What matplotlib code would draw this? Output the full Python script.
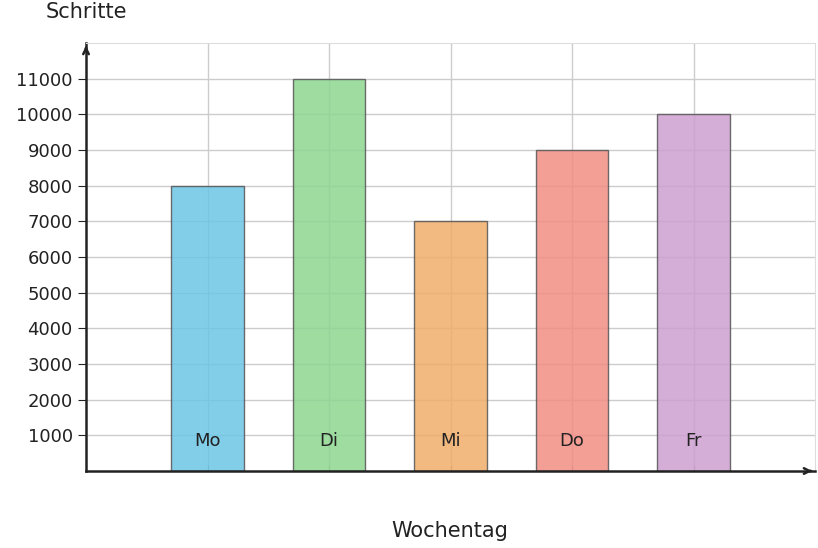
import matplotlib
matplotlib.use("Agg")
import matplotlib.pyplot as plt

days = ["Mo", "Di", "Mi", "Do", "Fr"]
steps = [8000, 11000, 7000, 9000, 10000]
colors = ["#6cc6e6", "#8dd690", "#f0ad6a", "#f18e84", "#cda0d1"]
yticks = list(range(1000, 12000, 1000))

fig = plt.figure(figsize=(8.18, 5.48), dpi=100)
ax = fig.add_axes([86/818, 77/548, 729/818, 428/548])
pos = list(range(1, len(days) + 1))
ax.bar(pos, steps, width=0.6, color=colors, alpha=0.85, edgecolor="#555555", linewidth=1, zorder=2)
ax.set_xlim(0, 6)
ax.set_ylim(0, 12000)
ax.set_xticks(pos)
ax.set_xticklabels([])
ax.tick_params(axis="x", length=4, color="#888888", direction="in")
ax.set_yticks(yticks)
ax.set_yticklabels([str(v) for v in yticks], fontsize=13, color="#222222")
ax.tick_params(axis="y", length=6, color="#222222")
ax.grid(True, color="#cccccc", linewidth=1, zorder=1)
ax.set_axisbelow(True)
for s in ["top", "right"]:
    ax.spines[s].set_color("#dddddd")
for s in ["left", "bottom"]:
    ax.spines[s].set_color("#222222")
    ax.spines[s].set_linewidth(1.8)
for p, d in zip(pos, days):
    ax.text(p, 850, d, ha="center", va="center", fontsize=13, color="#222222", zorder=3)
ax.annotate("", xy=(1.0, 0), xycoords="axes fraction", xytext=(0.99, 0),
            arrowprops=dict(arrowstyle="->", color="#222222", lw=1.8))
ax.annotate("", xy=(0, 1.0), xycoords="axes fraction", xytext=(0, 0.98),
            arrowprops=dict(arrowstyle="->", color="#222222", lw=1.8))
fig.text(86/818, 1 - 12/548, "Schritte", ha="center", va="center", fontsize=15, color="#222222")
fig.text(450/818, 1 - 531/548, "Wochentag", ha="center", va="center", fontsize=15, color="#222222")
fig.savefig("out.png", dpi=100)
